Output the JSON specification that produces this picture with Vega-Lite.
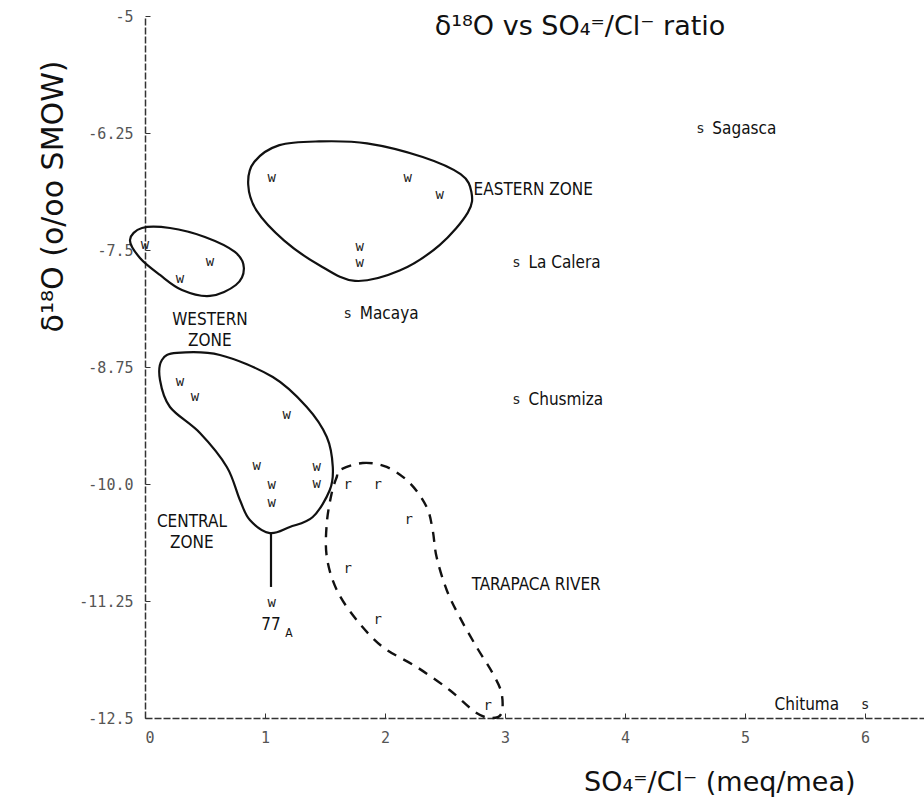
{
  "$schema": "https://vega.github.io/schema/vega-lite/v6.json",
  "width": 780,
  "height": 702,
  "autosize": {"type": "none"},
  "padding": {"left": 145, "top": 16, "right": 0, "bottom": 88},
  "background": "white",
  "config": {"view": {"stroke": null}, "font": "DejaVu Sans"},
  "title": {
    "text": "δ¹⁸O  vs  SO₄⁼/Cl⁻  ratio",
    "frame": "group",
    "anchor": "middle",
    "dx": 45,
    "offset": -32,
    "baseline": "top",
    "fontSize": 27,
    "fontWeight": "normal",
    "color": "#111",
    "font": "DejaVu Sans"
  },
  "datasets": {
    "outlines": [
      {"zone": "Eastern", "i": 0, "ratio": 0.91, "d18o": -6.56},
      {"zone": "Eastern", "i": 1, "ratio": 1.12, "d18o": -6.38},
      {"zone": "Eastern", "i": 2, "ratio": 1.45, "d18o": -6.34},
      {"zone": "Eastern", "i": 3, "ratio": 1.85, "d18o": -6.36},
      {"zone": "Eastern", "i": 4, "ratio": 2.314, "d18o": -6.506},
      {"zone": "Eastern", "i": 5, "ratio": 2.63, "d18o": -6.69},
      {"zone": "Eastern", "i": 6, "ratio": 2.72, "d18o": -6.88},
      {"zone": "Eastern", "i": 7, "ratio": 2.69, "d18o": -7.1},
      {"zone": "Eastern", "i": 8, "ratio": 2.455, "d18o": -7.447},
      {"zone": "Eastern", "i": 9, "ratio": 2.122, "d18o": -7.72},
      {"zone": "Eastern", "i": 10, "ratio": 1.75, "d18o": -7.83},
      {"zone": "Eastern", "i": 11, "ratio": 1.45, "d18o": -7.66},
      {"zone": "Eastern", "i": 12, "ratio": 1.16, "d18o": -7.4},
      {"zone": "Eastern", "i": 13, "ratio": 0.93, "d18o": -7.08},
      {"zone": "Eastern", "i": 14, "ratio": 0.86, "d18o": -6.8},
      {"zone": "Western", "i": 0, "ratio": -0.125, "d18o": -7.393},
      {"zone": "Western", "i": 1, "ratio": -0.025, "d18o": -7.265},
      {"zone": "Western", "i": 2, "ratio": 0.208, "d18o": -7.265},
      {"zone": "Western", "i": 3, "ratio": 0.499, "d18o": -7.361},
      {"zone": "Western", "i": 4, "ratio": 0.749, "d18o": -7.521},
      {"zone": "Western", "i": 5, "ratio": 0.824, "d18o": -7.692},
      {"zone": "Western", "i": 6, "ratio": 0.757, "d18o": -7.874},
      {"zone": "Western", "i": 7, "ratio": 0.541, "d18o": -7.991},
      {"zone": "Western", "i": 8, "ratio": 0.308, "d18o": -7.927},
      {"zone": "Western", "i": 9, "ratio": 0.125, "d18o": -7.767},
      {"zone": "Western", "i": 10, "ratio": -0.042, "d18o": -7.585},
      {"zone": "Central", "i": 0, "ratio": 0.266, "d18o": -8.6},
      {"zone": "Central", "i": 1, "ratio": 0.624, "d18o": -8.622},
      {"zone": "Central", "i": 2, "ratio": 1.065, "d18o": -8.857},
      {"zone": "Central", "i": 3, "ratio": 1.348, "d18o": -9.177},
      {"zone": "Central", "i": 4, "ratio": 1.515, "d18o": -9.498},
      {"zone": "Central", "i": 5, "ratio": 1.565, "d18o": -9.818},
      {"zone": "Central", "i": 6, "ratio": 1.54, "d18o": -10.064},
      {"zone": "Central", "i": 7, "ratio": 1.398, "d18o": -10.353},
      {"zone": "Central", "i": 8, "ratio": 1.207, "d18o": -10.459},
      {"zone": "Central", "i": 9, "ratio": 1.04, "d18o": -10.524},
      {"zone": "Central", "i": 10, "ratio": 0.874, "d18o": -10.385},
      {"zone": "Central", "i": 11, "ratio": 0.791, "d18o": -10.171},
      {"zone": "Central", "i": 12, "ratio": 0.682, "d18o": -9.818},
      {"zone": "Central", "i": 13, "ratio": 0.458, "d18o": -9.455},
      {"zone": "Central", "i": 14, "ratio": 0.208, "d18o": -9.177},
      {"zone": "Central", "i": 15, "ratio": 0.125, "d18o": -8.889},
      {"zone": "Central", "i": 16, "ratio": 0.141, "d18o": -8.675},
      {"zone": "Tarapaca", "i": 0, "ratio": 1.623, "d18o": -9.85},
      {"zone": "Tarapaca", "i": 1, "ratio": 1.814, "d18o": -9.776},
      {"zone": "Tarapaca", "i": 2, "ratio": 2.014, "d18o": -9.818},
      {"zone": "Tarapaca", "i": 3, "ratio": 2.206, "d18o": -9.989},
      {"zone": "Tarapaca", "i": 4, "ratio": 2.347, "d18o": -10.246},
      {"zone": "Tarapaca", "i": 5, "ratio": 2.397, "d18o": -10.491},
      {"zone": "Tarapaca", "i": 6, "ratio": 2.43, "d18o": -10.78},
      {"zone": "Tarapaca", "i": 7, "ratio": 2.514, "d18o": -11.132},
      {"zone": "Tarapaca", "i": 8, "ratio": 2.622, "d18o": -11.421},
      {"zone": "Tarapaca", "i": 9, "ratio": 2.763, "d18o": -11.741},
      {"zone": "Tarapaca", "i": 10, "ratio": 2.896, "d18o": -12.019},
      {"zone": "Tarapaca", "i": 11, "ratio": 2.971, "d18o": -12.233},
      {"zone": "Tarapaca", "i": 12, "ratio": 2.971, "d18o": -12.447},
      {"zone": "Tarapaca", "i": 13, "ratio": 2.896, "d18o": -12.5},
      {"zone": "Tarapaca", "i": 14, "ratio": 2.763, "d18o": -12.447},
      {"zone": "Tarapaca", "i": 15, "ratio": 2.538, "d18o": -12.201},
      {"zone": "Tarapaca", "i": 16, "ratio": 2.264, "d18o": -11.955},
      {"zone": "Tarapaca", "i": 17, "ratio": 1.981, "d18o": -11.741},
      {"zone": "Tarapaca", "i": 18, "ratio": 1.764, "d18o": -11.453},
      {"zone": "Tarapaca", "i": 19, "ratio": 1.598, "d18o": -11.132},
      {"zone": "Tarapaca", "i": 20, "ratio": 1.515, "d18o": -10.78},
      {"zone": "Tarapaca", "i": 21, "ratio": 1.515, "d18o": -10.417},
      {"zone": "Tarapaca", "i": 22, "ratio": 1.556, "d18o": -10.096},
      {"zone": "Tarapaca", "i": 23, "ratio": 1.598, "d18o": -9.925},
      {"zone": "Stem", "i": 0, "ratio": 1.05, "d18o": -10.524},
      {"zone": "Stem", "i": 1, "ratio": 1.05, "d18o": -11.1}
    ],
    "samples": [
      {"kind": "w", "ratio": 1.057, "d18o": -6.731},
      {"kind": "w", "ratio": 2.189, "d18o": -6.731},
      {"kind": "w", "ratio": 2.455, "d18o": -6.912},
      {"kind": "w", "ratio": 1.789, "d18o": -7.468},
      {"kind": "w", "ratio": 1.789, "d18o": -7.639},
      {"kind": "w", "ratio": 0.0, "d18o": -7.447},
      {"kind": "w", "ratio": 0.541, "d18o": -7.628},
      {"kind": "w", "ratio": 0.291, "d18o": -7.81},
      {"kind": "w", "ratio": 0.291, "d18o": -8.91},
      {"kind": "w", "ratio": 0.416, "d18o": -9.071},
      {"kind": "w", "ratio": 1.182, "d18o": -9.263},
      {"kind": "w", "ratio": 0.932, "d18o": -9.808},
      {"kind": "w", "ratio": 1.057, "d18o": -10.011},
      {"kind": "w", "ratio": 1.057, "d18o": -10.203},
      {"kind": "w", "ratio": 1.432, "d18o": -9.818},
      {"kind": "w", "ratio": 1.432, "d18o": -10.0},
      {"kind": "w", "ratio": 1.057, "d18o": -11.271},
      {"kind": "r", "ratio": 1.69, "d18o": -10.011},
      {"kind": "r", "ratio": 1.939, "d18o": -10.011},
      {"kind": "r", "ratio": 2.197, "d18o": -10.385},
      {"kind": "r", "ratio": 1.69, "d18o": -10.908},
      {"kind": "r", "ratio": 1.939, "d18o": -11.453},
      {"kind": "r", "ratio": 2.855, "d18o": -12.372},
      {"kind": "s", "site": "Sagasca", "ratio": 4.628, "d18o": -6.207},
      {"kind": "s", "site": "La Calera", "ratio": 3.096, "d18o": -7.639},
      {"kind": "s", "site": "Chusmiza", "ratio": 3.096, "d18o": -9.103},
      {"kind": "s", "site": "Macaya", "ratio": 1.69, "d18o": -8.184},
      {"kind": "s", "site": "Chituma", "ratio": 6.001, "d18o": -12.361}
    ],
    "notes": [
      {"note": "EASTERN ZONE", "side": "left", "ratio": 2.738, "d18o": -6.859},
      {"note": "WESTERN\nZONE", "side": "center", "ratio": 0.541, "d18o": -8.248},
      {"note": "CENTRAL\nZONE", "side": "center", "ratio": 0.391, "d18o": -10.406},
      {"note": "TARAPACA RIVER", "side": "left", "ratio": 2.722, "d18o": -11.079},
      {"note": "77", "side": "center", "ratio": 1.05, "d18o": -11.506}
    ]
  },
  "encoding": {
    "x": {
      "field": "ratio",
      "type": "quantitative",
      "scale": {"domain": [0, 6.5], "nice": false, "zero": false},
      "axis": {
        "values": [0, 1, 2, 3, 4, 5, 6],
        "labelExpr": "format(datum.value, 'd')",
        "labelFont": "DejaVu Sans Mono",
        "labelFontSize": 15,
        "labelColor": "#555",
        "labelPadding": 17,
        "tickSize": -5,
        "tickColor": "#333",
        "domainColor": "#333",
        "domainWidth": 1.5,
        "domainDash": [7, 2],
        "grid": false,
        "title": "SO₄⁼/Cl⁻  (meq/mea)",
        "titleFont": "DejaVu Sans",
        "titleFontSize": 27,
        "titleFontWeight": "normal",
        "titleColor": "#111",
        "titleAlign": "right",
        "titleBaseline": "alphabetic",
        "titleX": 710,
        "titleY": 72
      }
    },
    "y": {
      "field": "d18o",
      "type": "quantitative",
      "scale": {"domain": [-12.5, -5], "nice": false, "zero": false},
      "axis": {
        "values": [-5, -6.25, -7.5, -8.75, -10, -11.25, -12.5],
        "labelExpr": "datum.value == -10 ? '-10.0' : '-' + format(-datum.value, '~g')",
        "labelFont": "DejaVu Sans Mono",
        "labelFontSize": 15,
        "labelColor": "#555",
        "labelPadding": 17,
        "tickSize": -5,
        "tickColor": "#333",
        "domainColor": "#333",
        "domainWidth": 1.5,
        "domainDash": [7, 2],
        "grid": false,
        "title": "δ¹⁸O (o/oo SMOW)",
        "titleFont": "DejaVu Sans",
        "titleFontSize": 30,
        "titleFontWeight": "normal",
        "titleColor": "#111",
        "titleAngle": -90,
        "titleAlign": "right",
        "titleBaseline": "alphabetic",
        "titleX": -83,
        "titleY": 44
      }
    }
  },
  "layer": [
    {
      "data": {"name": "outlines"},
      "transform": [{"filter": "datum.zone != 'Tarapaca' && datum.zone != 'Stem'"}],
      "mark": {"type": "line", "interpolate": "cardinal-closed", "color": "#111", "strokeWidth": 2.2},
      "encoding": {"detail": {"field": "zone"}, "order": {"field": "i", "type": "quantitative"}}
    },
    {
      "data": {"name": "outlines"},
      "transform": [{"filter": "datum.zone == 'Tarapaca'"}],
      "mark": {"type": "line", "interpolate": "cardinal-closed", "color": "#111", "strokeWidth": 2.4, "strokeDash": [10, 8]},
      "encoding": {"order": {"field": "i", "type": "quantitative"}}
    },
    {
      "data": {"name": "outlines"},
      "transform": [{"filter": "datum.zone == 'Stem'"}],
      "mark": {"type": "line", "color": "#111", "strokeWidth": 2.2},
      "encoding": {"order": {"field": "i", "type": "quantitative"}}
    },
    {
      "data": {"name": "samples"},
      "mark": {"type": "text", "font": "DejaVu Sans Mono", "fontSize": 14, "color": "#222", "baseline": "middle", "align": "center"},
      "encoding": {"text": {"field": "kind"}}
    },
    {
      "data": {"name": "samples"},
      "transform": [{"filter": "datum.site != null && datum.site != 'Chituma'"}],
      "mark": {"type": "text", "font": "DejaVu Sans Condensed", "fontSize": 17, "color": "#111", "baseline": "middle", "align": "left", "dx": 12},
      "encoding": {"text": {"field": "site"}}
    },
    {
      "data": {"name": "samples"},
      "transform": [{"filter": "datum.site == 'Chituma'"}],
      "mark": {"type": "text", "font": "DejaVu Sans Condensed", "fontSize": 17, "color": "#111", "baseline": "middle", "align": "right", "dx": -26},
      "encoding": {"text": {"field": "site"}}
    },
    {
      "data": {"name": "notes"},
      "transform": [{"filter": "datum.side == 'left'"}],
      "mark": {"type": "text", "font": "DejaVu Sans Condensed", "fontSize": 17, "color": "#111", "baseline": "middle", "align": "left"},
      "encoding": {"text": {"field": "note"}}
    },
    {
      "data": {"name": "notes"},
      "transform": [{"filter": "datum.side == 'center'"}],
      "mark": {"type": "text", "font": "DejaVu Sans Condensed", "fontSize": 17, "color": "#111", "baseline": "middle", "align": "center", "lineBreak": "\n", "lineHeight": 21},
      "encoding": {"text": {"field": "note"}}
    },
    {
      "data": {"values": [{"note": "A", "ratio": 1.2, "d18o": -11.59}]},
      "mark": {"type": "text", "font": "DejaVu Sans Condensed", "fontSize": 12, "color": "#111", "baseline": "middle", "align": "center"},
      "encoding": {"text": {"field": "note"}}
    }
  ]
}
